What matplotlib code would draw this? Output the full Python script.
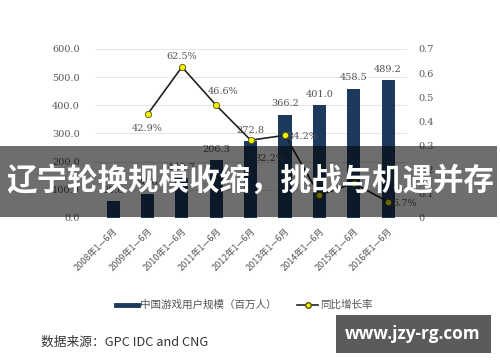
import matplotlib
matplotlib.use('Agg')
import matplotlib.pyplot as plt
from matplotlib.patches import Rectangle
import numpy as np

plt.rcParams['font.family'] = ['Noto Sans CJK SC', 'DejaVu Sans']

# 数据
years = ['2008年1—6月', '2009年1—6月', '2010年1—6月', '2011年1—6月', '2012年1—6月',
         '2013年1—6月', '2014年1—6月', '2015年1—6月', '2016年1—6月']
users = [60.6, 86.6, 140.7, 206.3, 272.8, 366.2, 401.0, 458.5, 489.2]
growth = [None, 0.429, 0.625, 0.466, 0.322, 0.342, 0.095, 0.143, 0.067]
growth_labels = ['', '42.9%', '62.5%', '46.6%', '32.2%', '34.2%', '', '', '6.7%']
label_offsets = [(0, 0), (0, -10), (0, 7.5), (5, 10), (14, -13), (13, -1), (0, 0), (0, 0), (12, -1)]

bar_color = '#1c3a5e'
txt_color = '#555555'

fig = plt.figure(figsize=(5, 3.62), dpi=100)
ax = fig.add_axes([0.19, 0.398, 0.624, 0.467])
x = np.arange(len(years))

ax.bar(x, users, width=0.38, color=bar_color, zorder=2)
for xi, v in zip(x, users):
    ax.annotate(f'{v:.1f}', (xi, v), xytext=(0, 4.5), textcoords='offset points',
                ha='center', va='bottom', fontsize=7, color=txt_color, family='DejaVu Serif')

ax.set_ylim(0, 600)
ax.set_xlim(-0.53, 8.55)
ax.set_yticks(np.arange(0, 601, 100))
ax.set_yticklabels([f'{v:.1f}' for v in np.arange(0, 601, 100)], family='DejaVu Serif')
ax.grid(axis='y', color='#e6e6e6', lw=0.8, zorder=0)
ax.set_axisbelow(True)
for s in ax.spines.values():
    s.set_visible(False)
ax.tick_params(length=0, labelsize=7, colors=txt_color, pad=11)
ax.set_xticks(x)
ax.set_xticklabels(years, rotation=45, ha='right', rotation_mode='anchor', fontsize=6.5)
ax.tick_params(axis='x', pad=6)

ax2 = ax.twinx()
gx = [xi for xi, g in zip(x, growth) if g is not None]
gy = [g for g in growth if g is not None]
ax2.plot(gx, gy, color='#222222', lw=1.2, marker='o', ms=4.5, mfc='#f2f200', mec='#555500', mew=0.6, zorder=3)
for xi, g, lab, off in zip(x, growth, growth_labels, label_offsets):
    if g is not None and lab:
        ax2.annotate(lab, (xi, g), xytext=off, textcoords='offset points',
                     ha='center', va='center', fontsize=7, color=txt_color, family='DejaVu Serif')
ax2.set_ylim(0, 0.7)
ax2.set_yticks(np.arange(0, 0.71, 0.1))
ax2.set_yticklabels(['0'] + [f'{v:.1f}' for v in np.arange(0.1, 0.71, 0.1)], family='DejaVu Serif')
for s in ax2.spines.values():
    s.set_visible(False)
ax2.tick_params(length=0, labelsize=7, colors=txt_color, pad=8)
ax2.set_xlim(-0.53, 8.55)

# 图例
ly = 1 - 305/362
fig.add_artist(plt.Line2D([116/500, 138/500], [ly, ly], color=bar_color, lw=3.5))
fig.text(140/500, ly, '中国游戏用户规模（百万人）', fontsize=7.6, color=txt_color, va='center')
fig.add_artist(plt.Line2D([297/500, 318/500], [ly, ly], color='#222222', lw=1.2))
fig.add_artist(plt.Line2D([307.5/500], [ly], marker='o', ms=4, mfc='#f2f200', mec='#555500', lw=0))
fig.text(320/500, ly, '同比增长率', fontsize=7.6, color=txt_color, va='center')

fig.text(41/500, 1-342/362, '数据来源：GPC IDC and CNG', fontsize=9.2, color='#333333', va='center')

# 横幅
fig.add_artist(Rectangle((0, 1-217/362), 497/500, 71/362, transform=fig.transFigure,
                         facecolor='black', alpha=0.57, edgecolor='none', zorder=10))
fig.text(250/500, 1-181/362, '辽宁轮换规模收缩，挑战与机遇并存', fontsize=22, fontweight='bold',
         color='white', ha='center', va='center', zorder=11)

# 水印
fig.add_artist(Rectangle((336/500, 1-353/362), 155/500, 38/362, transform=fig.transFigure,
                         facecolor='#5b5b5b', edgecolor='none', zorder=10))
fig.text(413/500, 1-334/362, 'www.jzy-rg.com', fontsize=12.3, fontweight='bold',
         color='white', ha='center', va='center', zorder=11, family='Open Sans')

fig.savefig('out.png', dpi=100)
